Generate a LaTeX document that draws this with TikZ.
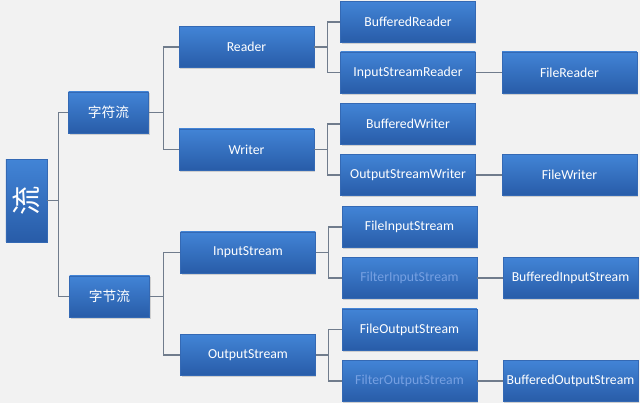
\documentclass[tikz,border=0pt]{standalone}
\usepackage{fontspec}
\setmainfont{Carlito}
\newfontfamily\cjk{Noto Sans CJK SC}
\usepackage{xcolor}
\usetikzlibrary{
	shadows,
	positioning
}
\definecolor{BoxTop}{RGB}{66,132,214}
\definecolor{BoxBot}{RGB}{40,92,168}
\definecolor{BoxEdge}{RGB}{52,105,180}
\definecolor{PageBg}{RGB}{242,242,242}
\definecolor{LinkGray}{RGB}{112,124,140}
\definecolor{FaintBlue}{RGB}{118,160,226}

\begin{document}
\begin{tikzpicture}[x=0.75pt, y=-0.75pt,
		blk/.style={draw=BoxEdge, line width=0.4pt, top color=BoxTop, bottom color=BoxBot,
			text=white, font=\fontsize{10.3}{12}\selectfont, inner sep=0pt,
			minimum width=101pt, minimum height=31pt,
			drop shadow={shadow xshift=0.8pt, shadow yshift=-1.2pt, fill=black!35, opacity=0.45}},
		mid/.style={blk, minimum width=60pt},
		faint/.style={blk, text=FaintBlue},
		link/.style={draw=LinkGray, line width=0.8pt}]
			\fill[PageBg] (0,0) rectangle (640,403);
			\useasboundingbox (0,0) rectangle (640,403);
			% root
			\node[blk, minimum width=31pt, minimum height=62pt] (liu) at (26.5,200.5)
				{\rotatebox{90}{\cjk\fontsize{22}{22}\selectfont 流}};
			% second level
			\node[mid] (zifu) at (108.5,112.5) {\cjk 字符流};
			\node[mid] (zijie) at (109.5,296.5) {\cjk 字节流};
			% third level
			\node[blk] (reader) at (246.5,47) {Reader};
			\node[blk] (writer) at (246.5,149.5) {Writer};
			\node[blk] (instream) at (248,252.5) {InputStream};
			\node[blk] (outstream) at (248,355) {OutputStream};
			% fourth level
			\node[blk] (bufreader) at (408,22) {BufferedReader};
			\node[blk] (isreader) at (408,72.5) {InputStreamReader};
			\node[blk] (bufwriter) at (408,124) {BufferedWriter};
			\node[blk] (oswriter) at (408,175) {OutputStreamWriter};
			\node[blk] (fileis) at (409.5,227) {FileInputStream};
			\node[faint] (filteris) at (409.5,278) {FilterInputStream};
			\node[blk] (fileos) at (409.5,329.5) {FileOutputStream};
			\node[faint] (filteros) at (409.5,381) {FilterOutputStream};
			% fifth level
			\node[blk] (filereader) at (569.5,72.5) {FileReader};
			\node[blk] (filewriter) at (569.5,175) {FileWriter};
			\node[blk] (bufis) at (570.5,278) {BufferedInputStream};
			\node[blk] (bufos) at (570.5,381) {BufferedOutputStream};
			% links
			\draw[link] (liu.east) -- ++(11,0) |- (zifu.west);
			\draw[link] (liu.east) -- ++(11,0) |- (zijie.west);
			\draw[link] (zifu.east) -- ++(15,0) |- (reader.west);
			\draw[link] (zifu.east) -- ++(15,0) |- (writer.west);
			\draw[link] (zijie.east) -- ++(14,0) |- (instream.west);
			\draw[link] (zijie.east) -- ++(14,0) |- (outstream.west);
			\draw[link] (reader.east) -- ++(13,0) |- (bufreader.west);
			\draw[link] (reader.east) -- ++(13,0) |- (isreader.west);
			\draw[link] (writer.east) -- ++(13,0) |- (bufwriter.west);
			\draw[link] (writer.east) -- ++(13,0) |- (oswriter.west);
			\draw[link] (instream.east) -- ++(13,0) |- (fileis.west);
			\draw[link] (instream.east) -- ++(13,0) |- (filteris.west);
			\draw[link] (outstream.east) -- ++(13,0) |- (fileos.west);
			\draw[link] (outstream.east) -- ++(13,0) |- (filteros.west);
			\draw[link] (isreader) -- (filereader);
			\draw[link] (oswriter) -- (filewriter);
			\draw[link] (filteris) -- (bufis);
			\draw[link] (filteros) -- (bufos);
		\end{tikzpicture}
\end{document}
